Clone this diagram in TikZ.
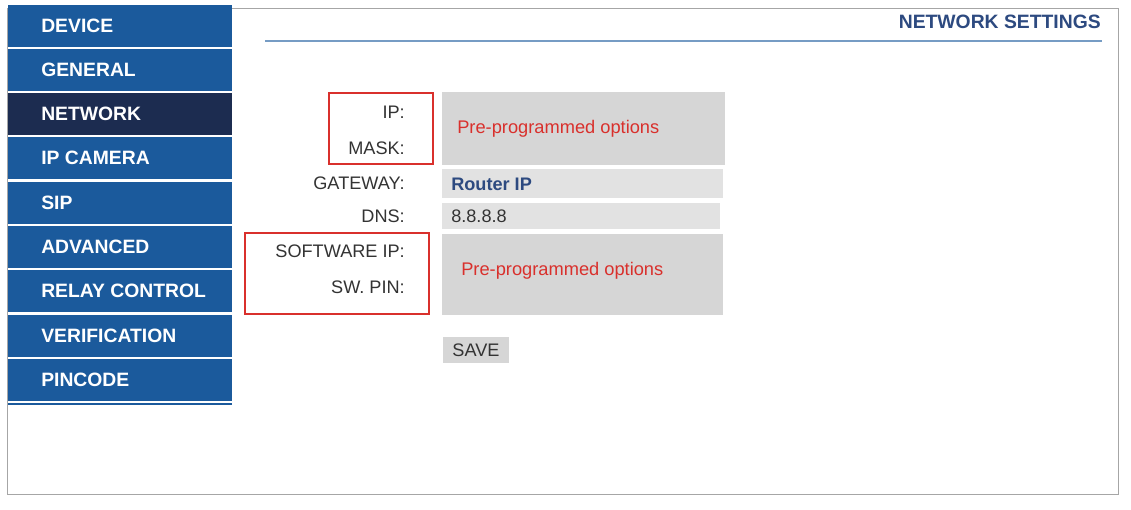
\documentclass[tikz,border=0pt]{standalone}
\usepackage{fontspec}
\setmainfont{Liberation Sans}
\definecolor{navbtn}{HTML}{1B5A9C}
\definecolor{navsel}{HTML}{1C2C50}
\definecolor{ttl}{HTML}{2D4A80}
\definecolor{lbl}{HTML}{333333}
\definecolor{fld}{HTML}{D6D6D6}
\definecolor{fld2}{HTML}{E2E2E2}
\definecolor{redb}{HTML}{D9302C}
\begin{document}
\begin{tikzpicture}[x=0.75pt,y=-0.75pt,
  btn/.style={fill=navbtn,draw=none},
  btxt/.style={anchor=west,text=white,font=\fontsize{14.5}{15}\selectfont\bfseries,inner sep=0},
  lab/.style={anchor=east,text=lbl,font=\fontsize{13.6}{15}\selectfont,inner sep=0},
  redbox/.style={draw=redb,line width=1.8pt},
  redtxt/.style={anchor=west,text=redb,font=\fontsize{13.7}{15}\selectfont,inner sep=0}]
\useasboundingbox (0,0) rectangle (1131,510);
\fill[white] (0,0) rectangle (1131,510);
\draw[gray!70,line width=0.6pt] (7,8) rectangle (1118,494);
% sidebar
\foreach \y/\t [count=\i] in {5/DEVICE,49/GENERAL,93/NETWORK,137/IP CAMERA,182/SIP,226/ADVANCED,270/RELAY CONTROL,315/VERIFICATION,359/PINCODE}{
  \ifnum\i=3 \fill[navsel] (8,\y) rectangle (232,\y+42);
  \else \fill[navbtn] (8,\y) rectangle (232,\y+42); \fi
  \node[btxt] (b\i) at (41,\y+21) {\t};
}
\draw[navbtn,line width=1.2pt] (8,404) -- (232,404);
% title
\node[anchor=east,text=ttl,font=\fontsize{14.5}{15}\selectfont\bfseries,inner sep=0] (title) at (1101,22) {NETWORK SETTINGS};
\draw[color=navbtn!60,line width=1.5pt] (265,41) -- (1102,41);
% fields
\fill[fld] (442,92) rectangle (725,165);
\fill[fld2] (442,169) rectangle (723,198);
\fill[fld2] (442,203) rectangle (720,229);
\fill[fld] (442,234) rectangle (723,315);
\node[anchor=west,text=ttl,font=\fontsize{13.6}{15}\selectfont\bfseries,inner sep=0] (rip) at (451,184) {Router IP};
\node[anchor=west,text=lbl,font=\fontsize{13.6}{15}\selectfont,inner sep=0] (dnsv) at (451,216) {8.8.8.8};
\node[redtxt] (p1) at (457,129) {Pre-programmed options};
\node[redtxt] (p2) at (461,271) {Pre-programmed options};
% labels
\node[lab] (l1) at (405,112) {IP:};
\node[lab] (l2) at (405,148) {MASK:};
\node[lab] (l3) at (405,183) {GATEWAY:};
\node[lab] (l4) at (405,216) {DNS:};
\node[lab] (l5) at (405,251) {SOFTWARE IP:};
\node[lab] (l6) at (405,287) {SW. PIN:};
\draw[redbox] (329,93) rectangle (433,164);
\draw[redbox] (245,233) rectangle (429,314);
% save
\fill[fld] (443,337) rectangle (509,363);
\node[text=lbl,font=\fontsize{13.6}{15}\selectfont,inner sep=0] (save) at (476,350) {SAVE};
\end{tikzpicture}
\end{document}
